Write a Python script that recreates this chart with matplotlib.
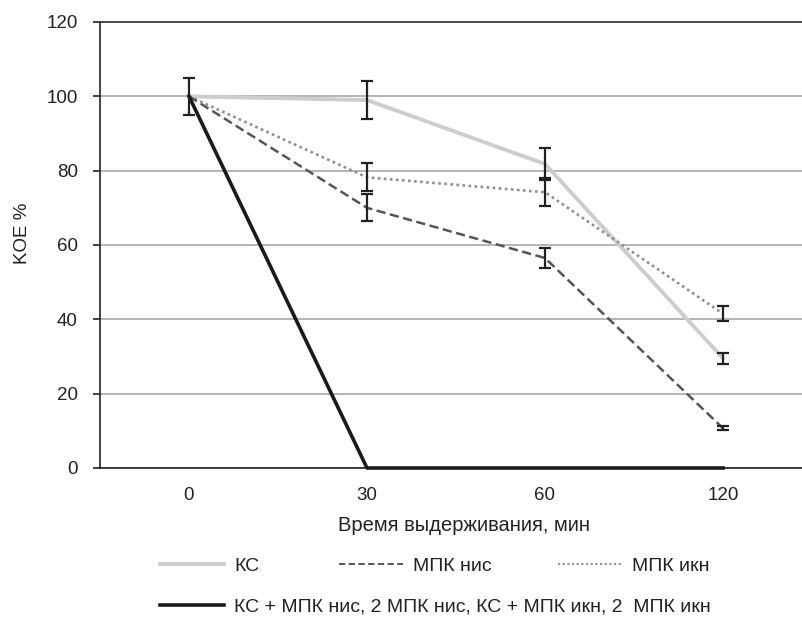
import matplotlib
matplotlib.use("Agg")
import matplotlib.pyplot as plt
from matplotlib.lines import Line2D
import numpy as np

plt.rcParams['font.family'] = ['Liberation Sans', 'DejaVu Sans']

categories = ["0", "30", "60", "120"]
ks = [100, 99, 81.8, 29.5]
ks_err = [5, 5, 4.2, 1.5]
nis = [100, 70, 56.5, 10.7]
nis_err = [0, 3.6, 2.8, 0.6]
ikn = [100, 78.2, 74.2, 41.5]
ikn_err = [0, 3.8, 3.8, 2.0]
combo = [100, 0, 0, 0]

labels = ["КС", "МПК нис", "МПК икн",
          "КС + МПК нис, 2 МПК нис, КС + МПК икн, 2  МПК икн"]
y_ticks = [0, 20, 40, 60, 80, 100, 120]

W, H = 803, 626
fig = plt.figure(figsize=(W / 100, H / 100), dpi=100)
ax = fig.add_axes([100 / W, (H - 468) / H, (W - 100) / W, (468 - 22) / H])

x = np.arange(len(categories))

ax.plot(x, ks, color='#cdcdcd', lw=2.8, zorder=3)
ax.plot(x, ikn, color='#8e8e8e', lw=1.9, linestyle=(0, (1.0, 1.3)), zorder=3)
ax.plot(x, nis, color='#555555', lw=1.8, linestyle=(0, (3.7, 1.8)), zorder=4)
ax.plot(x, combo, color='#1a1a1a', lw=2.6, zorder=5, clip_on=False)

ekw = dict(fmt='none', ecolor='#222222', elinewidth=1.6, capsize=4, capthick=1.6, zorder=6)
ax.errorbar(x, ks, yerr=ks_err, **ekw)
ax.errorbar(x[1:], nis[1:], yerr=nis_err[1:], **ekw)
ax.errorbar(x[1:], ikn[1:], yerr=ikn_err[1:], **ekw)

ax.set_xlim(-0.5, (W - 189) / 178)
ax.set_ylim(0, 120)
ax.set_yticks(y_ticks)
ax.set_xticks(x)
ax.set_xticklabels(categories)
ax.yaxis.grid(True, color='#a8a8a8', lw=1.2, zorder=0)
ax.set_axisbelow(True)

ax.spines['right'].set_visible(False)
ax.spines['top'].set_color('#333333')
ax.spines['top'].set_linewidth(1.2)
ax.spines['left'].set_linewidth(1.2)
ax.spines['bottom'].set_linewidth(1.2)
ax.spines['left'].set_color('#222222')
ax.spines['bottom'].set_color('#222222')

ax.tick_params(axis='y', length=5, width=1.2, pad=11, labelsize=13.5, colors='#222222')
ax.tick_params(axis='x', length=0, pad=14, labelsize=13.5, colors='#222222')
ax.set_ylabel("KOE %", fontsize=13.5, color='#222222', labelpad=11)
ax.yaxis.label.set_y((468 - 233) / 446)
ax.set_xlabel("Время выдерживания, мин", fontsize=14.5, color='#222222', labelpad=8)
ax.xaxis.label.set_x((464 - 100) / 703)

handles = [
    Line2D([], [], color='#cdcdcd', lw=2.8),
    Line2D([], [], color='#555555', lw=1.4, linestyle=(0, (3.2, 1.8))),
    Line2D([], [], color='#8e8e8e', lw=1.4, linestyle=(0, (1.1, 1.3))),
    Line2D([], [], color='#1a1a1a', lw=2.6),
]
positions = [(160, 566), (339, 566), (558, 566), (160, 607)]
for h, lab, (px, py) in zip(handles, labels, positions):
    fig.legend(handles=[h], labels=[lab], loc='center left',
               bbox_to_anchor=(px / W, (H - py) / H), frameon=False,
               borderpad=0, borderaxespad=0, handlelength=3.3,
               handletextpad=0.5, fontsize=14, labelcolor='#222222')

fig.savefig("out.png", dpi=100)
